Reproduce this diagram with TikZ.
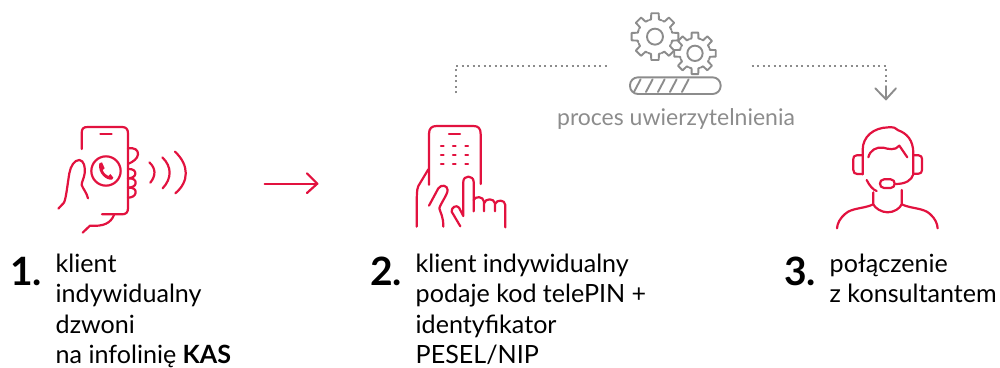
\documentclass[tikz,border=0pt]{standalone}
\usepackage{fontspec}
\setmainfont{Lato}
\definecolor{kasred}{HTML}{E2123F}
\definecolor{kasgray}{HTML}{8C8C8C}
\tikzset{
  icon/.style={draw=kasred,line width=2.2pt,line cap=round,line join=round},
  grayicon/.style={draw=kasgray,line width=1.9pt,line cap=round,line join=round},
  dots/.style={draw=kasgray,line width=2.6pt,dash pattern=on 2.3pt off 3.2pt},
  txt/.style={anchor=base west,inner sep=0pt,font=\fontsize{25.1}{30}\selectfont,text=black},
  num/.style={anchor=base west,inner sep=0pt,font=\fontsize{39}{46}\bfseries\selectfont,text=black}
}
\newcommand{\gearshape}[5]{% cx cy outer root hole (zoom units)
  \fill[white] (#1,#2) circle ({#3*0.85});
  \foreach \a in {0,45,...,315}{
    \draw[grayicon] ($(#1,#2)+({\a-22.5+4}:#4)$) arc[start angle={\a-22.5+4},end angle={\a-13},radius=#4]
      -- ($(#1,#2)+({\a-9}:#3)$) -- ($(#1,#2)+({\a+9}:#3)$) -- ($(#1,#2)+({\a+13}:#4)$)
      arc[start angle={\a+13},end angle={\a+22.5},radius=#4];
  }
  \draw[grayicon] (#1,#2) circle (#5);
}
\usetikzlibrary{calc}
\begin{document}
\begin{tikzpicture}[x=1pt,y=-1pt]
\useasboundingbox (0,0) rectangle (1000,367);
% phone caller
\begin{scope}[shift={(40,110)},x=0.3333pt,y=-0.3333pt]
  \draw[icon] (125,117) -- (125,70) .. controls (125,56) and (130,51) .. (143,51) -- (246,51) .. controls (258,51) and (264,57) .. (264,70) -- (264,295) .. controls (264,307) and (258,313) .. (246,313) -- (186,313);
  \draw[icon] (181,71) -- (215,71);
  \draw[icon] (198,183) circle (44);
  \fill[kasred] (178,160) -- (186,157) -- (194,175) -- (188,180) .. controls (192,190) and (198,195) .. (205,198) -- (211,192) -- (220,203) -- (216,209) .. controls (200,212) and (172,190) .. (178,160) -- cycle;
  % fingers right
  \draw[icon] (264,115) .. controls (284,112) and (295,120) .. (294,133) .. controls (293,146) and (280,155) .. (264,162);
  \draw[icon] (264,177) .. controls (280,176) and (287,183) .. (286,192) .. controls (285,200) and (275,205) .. (264,205);
  \draw[icon] (264,205) .. controls (280,204) and (288,210) .. (287,220) .. controls (286,229) and (275,233) .. (264,233);
  \draw[icon] (264,233) .. controls (280,232) and (288,238) .. (287,248) .. controls (286,258) and (275,263) .. (264,263);
  % thumb / left
  \draw[icon] (55,296) -- (72,278) .. controls (79,262) and (82,225) .. (88,190) .. controls (92,168) and (103,150) .. (118,150) .. controls (132,152) and (136,170) .. (134,190) .. controls (132,205) and (125,215) .. (125,225) .. controls (130,238) and (140,248) .. (144,265);
  % palm bottom
  \draw[icon] (128,368) -- (150,347) .. controls (190,350) and (212,340) .. (222,315);
  % waves
  \draw[icon] (328,157) .. controls (348,175) and (348,197) .. (331,218);
  \draw[icon] (367,142) .. controls (396,170) and (396,205) .. (368,235);
  \draw[icon] (405,125) .. controls (448,165) and (448,215) .. (406,250);
  % arrow
  \coordinate (arrowA) at (674,221);
  \coordinate (arrowB) at (832,221);
  \draw[icon] (arrowA) -- (arrowB);
  \draw[icon] (801,190) -- (arrowB) -- (801,249);
\end{scope}
% phone keypad
\begin{scope}[shift={(400,110)},x=0.3333pt,y=-0.3333pt]
  \draw[icon] (87,224) -- (87,72) .. controls (87,55) and (95,48) .. (110,48) -- (220,48) .. controls (235,48) and (242,55) .. (242,72) -- (242,222);
  \draw[icon] (147,71) -- (180,71);
  \foreach \yy in {109,136,163}{\foreach \xx in {127,163,200}{\draw[icon] (\xx-4,\yy) -- (\xx+4,\yy);}}
  \draw[icon] (85,178) -- (55,228) .. controls (50,240) and (50,250) .. (50,350);
  \draw[icon] (87,287) -- (115,235) .. controls (124,222) and (142,226) .. (143,240) .. controls (142,255) and (122,280) .. (118,295) .. controls (122,310) and (130,320) .. (130,350);
  \draw[icon] (181,349) -- (155,305) .. controls (153,292) and (170,283) .. (177,293) -- (190,318) -- (190,215) .. controls (190,195) and (220,195) .. (221,215) -- (221,304);
  \draw[icon] (221,270) .. controls (225,258) and (250,258) .. (252,275) -- (252,304);
  \draw[icon] (252,280) .. controls (256,264) and (282,264) .. (285,280) -- (285,304);
  \draw[icon] (285,282) .. controls (290,268) and (315,268) .. (316,285) -- (316,352);
\end{scope}
% gears and bar
\begin{scope}[shift={(440,0)},x=0.3333pt,y=-0.3333pt]
  \gearshape{645}{110}{71}{53}{24}
  \gearshape{765}{160}{63}{46}{23}
  \draw[grayicon,rounded corners=8pt] (570,232) rectangle (842,282);
  \foreach \xx in {600,636,672,708,744}{\draw[grayicon] (\xx-18,276) -- (\xx+2,238);}
  \coordinate (dotA) at (48,280);
  \coordinate (dotB) at (48,198);
  \coordinate (dotC) at (500,198);
  \coordinate (dotD) at (935,198);
  \coordinate (dotE) at (1338,198);
  \coordinate (dotF) at (1338,245);
  \coordinate (arrowTip) at (1338,298);
  \draw[dots] (dotA) -- (dotB) -- (dotC);
  \draw[dots] (dotD) -- (dotE) -- (dotF);
  \draw[grayicon] (1338,258) -- (arrowTip);
  \draw[grayicon] (1306,265) -- (arrowTip) -- (1368,265);
\end{scope}
% consultant
\begin{scope}[shift={(820,115)},x=0.3333pt,y=-0.3333pt]
  \draw[icon] (128,178) -- (128,105) .. controls (128,65) and (160,38) .. (205,37) .. controls (220,36) and (228,38) .. (235,46) .. controls (260,55) and (280,75) .. (280,115) -- (280,178) .. controls (275,195) and (258,207) .. (227,207);
  \draw[icon] (128,121) -- (110,121) .. controls (102,121) and (100,126) .. (100,132) -- (100,165) .. controls (100,173) and (104,177) .. (112,177) -- (128,177);
  \draw[icon] (282,121) -- (296,121) .. controls (303,121) and (306,126) .. (306,132) -- (306,165) .. controls (306,172) and (302,176) .. (296,176) -- (282,176);
  \draw[icon] (145,127) .. controls (150,105) and (170,95) .. (190,98) .. controls (205,102) and (225,108) .. (238,92) -- (262,127);
  \draw[icon] (192,193) -- (212,193) .. controls (228,193) and (228,219) .. (212,219) -- (192,219) .. controls (176,219) and (176,193) .. (192,193) -- cycle;
  \draw[icon] (140,195) .. controls (148,212) and (160,225) .. (170,228);
  \draw[icon] (160,232) -- (160,268) .. controls (165,280) and (185,292) .. (203,292) .. controls (222,292) and (240,280) .. (245,268) -- (245,225);
  \draw[icon] (160,268) .. controls (130,282) and (95,278) .. (75,297) .. controls (60,310) and (52,325) .. (51,340);
  \draw[icon] (245,268) .. controls (275,282) and (310,278) .. (330,297) .. controls (345,310) and (352,325) .. (353,340);
\end{scope}
% text
\node[anchor=base,inner sep=0pt,font=\fontsize{23}{27}\selectfont,text=kasgray] (proc) at (676,125) {proces uwierzytelnienia};
\node[num] (n1) at (10,285) {1.};
\node[txt] (t1a) at (55.5,272) {klient};
\node[txt] (t1b) at (55.5,302) {indywidualny};
\node[txt] (t1c) at (55.5,333) {dzwoni};
\node[txt] (t1d) at (55.5,363) {na infolinię \textbf{KAS}};
\node[num] (n2) at (370,285) {2.};
\node[txt] (t2a) at (415.5,272) {klient indywidualny};
\node[txt] (t2b) at (415.5,302) {podaje kod telePIN +};
\node[txt] (t2c) at (415.5,333) {identyfikator};
\node[txt] (t2d) at (415.5,363) {PESEL/NIP};
\node[num] (n3) at (784,285) {3.};
\node[txt] (t3a) at (829.5,272) {połączenie};
\node[txt] (t3b) at (829.5,302) {z konsultantem};
\end{tikzpicture}
\end{document}
